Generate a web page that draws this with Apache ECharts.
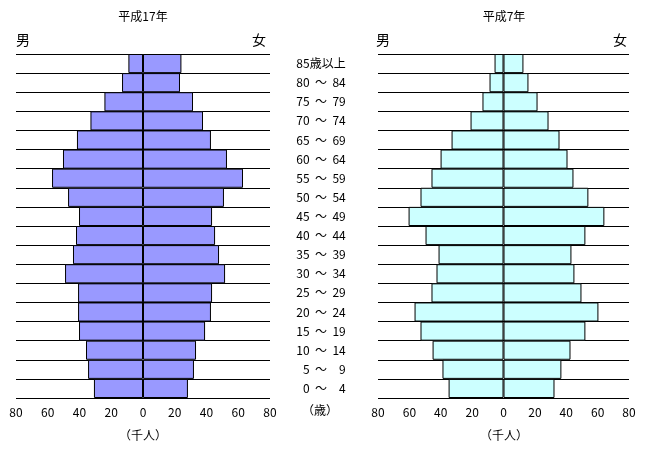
<!DOCTYPE html>
<html>
<head>
<meta charset="utf-8">
<script src="https://cdn.jsdelivr.net/npm/echarts@6/dist/echarts.min.js"></script>
<style>
  html, body { margin: 0; padding: 0; background: #fff; }
  #chart { width: 648px; height: 454px; }
</style>
</head>
<body>
<div id="chart"></div>
<script>
// age groups, youngest first (bottom of the pyramid)
const ages = ['\u20070  ～  \u20074', '\u20075  ～  \u20079', '10  ～  14', '15  ～  19', '20  ～  24',
  '25  ～  29', '30  ～  34', '35  ～  39', '40  ～  44', '45  ～  49', '50  ～  54', '55  ～  59',
  '60  ～  64', '65  ～  69', '70  ～  74', '75  ～  79', '80  ～  84', '85歳以上'];

// 平成17年 (thousand people)
const male17 = [30.9, 34.6, 35.9, 40.3, 40.9, 40.9, 49.1, 44.1, 42.2, 40.3, 47.2, 57.3, 50.4, 41.6, 33.1, 24.3, 13.2, 9.2];
const female17 = [28.3, 32.1, 33.4, 39.1, 42.8, 43.5, 51.7, 47.9, 45.4, 43.5, 51.0, 63.0, 52.9, 42.8, 37.8, 31.5, 23.3, 24.2];

// 平成7年 (thousand people)
const male7 = [35.0, 38.9, 45.2, 52.9, 56.7, 45.9, 42.7, 41.4, 49.7, 60.5, 52.9, 45.9, 40.1, 33.1, 21.0, 13.4, 8.9, 5.7];
const female7 = [32.5, 36.9, 42.7, 52.2, 60.5, 49.7, 45.2, 43.3, 52.2, 64.3, 54.1, 44.6, 40.8, 35.7, 28.7, 21.7, 15.9, 12.7];

const font = '"Noto Sans CJK JP", sans-serif';

function xAxisFor(gridIndex) {
  return {
    type: 'value', gridIndex: gridIndex, min: -80, max: 80, interval: 10,
    axisLine: { lineStyle: { color: '#000', width: 1 } },
    axisTick: { length: 5, lineStyle: { color: '#000' } },
    splitLine: { show: false },
    axisLabel: {
      color: '#000', fontSize: 12, fontFamily: font, margin: 8,
      formatter: v => (v % 20 === 0 ? String(Math.abs(v)) : '')
    }
  };
}

function yAxisFor(gridIndex, withLabels) {
  return {
    type: 'category', gridIndex: gridIndex, data: ages, position: 'right',
    axisLine: { show: false },
    axisTick: { show: false },
    splitLine: { show: true, lineStyle: { color: '#000', width: 1 } },
    axisLabel: {
      show: withLabels, color: '#000', fontSize: 12, fontFamily: font,
      align: 'center', margin: 51
    }
  };
}

function barSeries(idx, values, sign, color) {
  return {
    type: 'bar', xAxisIndex: idx, yAxisIndex: idx, stack: 'p' + idx,
    data: values.map(v => sign * v),
    barCategoryGap: '0%',
    itemStyle: { color: color, borderColor: '#000', borderWidth: 1 },
    silent: true
  };
}

const chart = echarts.init(document.getElementById('chart'));
chart.setOption({
  animation: false,
  grid: [
    { left: 16, top: 54, width: 254, height: 344 },
    { left: 378, top: 54, width: 251, height: 344 }
  ],
  xAxis: [xAxisFor(0), xAxisFor(1)],
  yAxis: [yAxisFor(0, true), yAxisFor(1, false)],
  series: [
    barSeries(0, male17, -1, '#9999ff'),
    barSeries(0, female17, 1, '#9999ff'),
    barSeries(1, male7, -1, '#ccffff'),
    barSeries(1, female7, 1, '#ccffff')
  ],
  graphic: [
    { type: 'text', x: 143, y: 10, style: { text: '平成17年', font: '12px ' + font, fill: '#000', align: 'center' } },
    { type: 'text', x: 504, y: 10, style: { text: '平成7年', font: '12px ' + font, fill: '#000', align: 'center' } },
    { type: 'text', x: 16, y: 33, style: { text: '男', font: '14px ' + font, fill: '#000' } },
    { type: 'text', x: 266, y: 33, style: { text: '女', font: '14px ' + font, fill: '#000', align: 'right' } },
    { type: 'text', x: 376, y: 33, style: { text: '男', font: '14px ' + font, fill: '#000' } },
    { type: 'text', x: 627, y: 33, style: { text: '女', font: '14px ' + font, fill: '#000', align: 'right' } },
    { type: 'text', x: 320, y: 404, style: { text: '（歳）', font: '12px ' + font, fill: '#000', align: 'center' } },
    { type: 'text', x: 143, y: 429, style: { text: '（千人）', font: '12px ' + font, fill: '#000', align: 'center' } },
    { type: 'text', x: 504, y: 429, style: { text: '（千人）', font: '12px ' + font, fill: '#000', align: 'center' } }
  ]
});
</script>
</body>
</html>
